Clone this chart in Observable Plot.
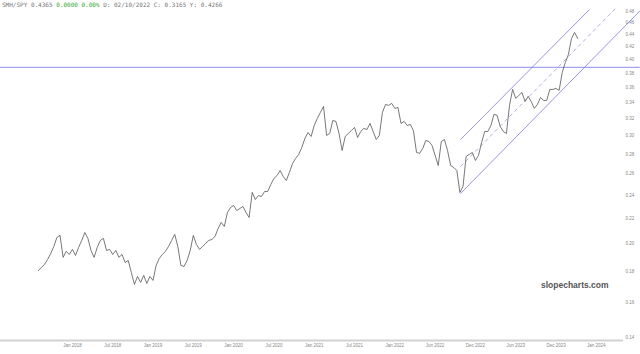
<!DOCTYPE html>
<html>
<head>
<meta charset="utf-8">
<script src="https://cdn.jsdelivr.net/npm/d3@7"></script>
<script src="https://cdn.jsdelivr.net/npm/@observablehq/plot@0.6"></script>
<style>
  html, body { margin: 0; padding: 0; background: #fff; }
  #wrap { position: relative; width: 640px; height: 354px; overflow: hidden; }
  #hdr { position: absolute; left: 2px; top: 1px; font: 6px "DejaVu Sans Mono", monospace; color: #777; white-space: pre; }
  #hdr .g { color: #3a3; }
  #wm { position: absolute; left: 541px; top: 280px; font: bold 8.5px "Liberation Sans", Arial, sans-serif; color: #555; }
</style>
</head>
<body>
<div id="wrap">
  <div id="chart"></div>
  <div id="hdr">SMH/SPY 0.4365 <span class="g">0.0000 0.00%</span> D: 02/10/2022 C: 0.3165 Y: 0.4266</div>
  <div id="wm">slopecharts.com</div>
</div>
<script>
// SMH/SPY ratio, one sample roughly every two weeks
const ratio = [
0.1806,0.1827,0.1848,0.1883,0.1926,0.1978,0.2046,0.2062,0.1898,0.1941,
0.1919,0.1956,0.1912,0.1971,0.2023,0.2085,0.2039,0.1948,0.1898,0.1971,
0.2023,0.2039,0.1948,0.1956,0.1919,0.1948,0.1898,0.1919,0.1862,0.1876,
0.1793,0.1714,0.1766,0.1727,0.1773,0.1720,0.1766,0.1740,0.1841,0.1890,
0.1919,0.1941,0.1978,0.2023,0.2070,0.1978,0.1841,0.1834,0.1876,0.1948,
0.2062,0.1993,0.1956,0.1978,0.2001,0.2023,0.2031,0.2054,0.2117,0.2165,
0.2133,0.2248,0.2291,0.2309,0.2265,0.2282,0.2300,0.2248,0.2206,0.2425,
0.2361,0.2397,0.2388,0.2434,0.2434,0.2499,0.2556,0.2585,0.2634,0.2575,
0.2537,0.2615,0.2705,0.2757,0.2799,0.2874,0.2973,0.3040,0.2995,0.3122,
0.3206,0.3280,0.3355,0.3007,0.3029,0.3182,0.3170,0.3029,0.2841,0.2995,
0.3029,0.3063,0.3099,0.2984,0.3052,0.3087,0.3075,0.3146,0.3052,0.2961,
0.3007,0.3280,0.3380,0.3368,0.3393,0.3329,0.3342,0.3146,0.3170,0.3122,
0.3134,0.3063,0.2820,0.2810,0.2863,0.2950,0.2939,0.2895,0.2789,0.2685,
0.2939,0.2961,0.2841,0.2685,0.2665,0.2634,0.2425,0.2480,0.2778,0.2799,
0.2820,0.2736,0.2789,0.2928,0.3052,0.3052,0.3122,0.3255,0.3243,0.3110,
0.3052,0.3029,0.3368,0.3577,0.3457,0.3497,0.3537,0.3418,0.3484,0.3418,
0.3329,0.3380,0.3470,0.3431,0.3431,0.3577,0.3577,0.3590,0.3563,0.3813,
0.3960,0.4082,0.4335,0.4435,0.4335
];

// x-axis tick labels and the sample index at which each sits
const tickLabels = ["Jan 2018","Jul 2018","Jan 2019","Jul 2019","Jan 2020","Jul 2020","Jan 2021","Jul 2021","Jan 2022","Jun 2022","Dec 2022","Jun 2023","Dec 2023","Jan 2024"];
const tickIndex = [11,24,37,50,63,76,89,102,115,128,141,154,167,180];

// y-axis tick values
const yTicks = [0.14,0.16,0.18,0.20,0.22,0.24,0.26,0.28,0.30,0.32,0.34,0.36,0.38,0.40,0.42,0.44,0.46,0.48];

// trend channel: [startIndex, startValue, endIndex, endValue]
const channelUpper = [136.2, 0.2960, 177.8, 0.4836];
const channelMid   = [136.2, 0.2674, 186.2, 0.4855];
const channelLower = [136.2, 0.2415, 194.2, 0.4818];

// horizontal level
const level = 0.3886;
const levelSpan = [-12.2, 194.2];

const xDomain = [-12.2, 187.8];
const yDomain = [0.1387, 0.5003];

const series = ratio.map((v, i) => ({i, v}));
const toLink = c => ({x1: c[0], y1: c[1], x2: c[2], y2: c[3]});
const labelOf = new Map(tickIndex.map((t, k) => [t, tickLabels[k]]));

const chart = Plot.plot({
  width: 640,
  height: 354,
  marginLeft: 0,
  marginRight: 20,
  marginTop: 0,
  marginBottom: 14,
  style: {background: "#fff", color: "#888", fontFamily: "Liberation Sans, Arial, sans-serif"},
  x: {domain: xDomain, axis: null},
  y: {type: "log", domain: yDomain, axis: null},
  marks: [
    Plot.ruleY([yDomain[0]], {stroke: "#d2d2d2", strokeWidth: 2, x1: xDomain[0], x2: xDomain[1] + 1}),
    Plot.axisX(tickIndex, {tickSize: 0, tickPadding: 3, fontSize: 4.5, fill: "#888", tickFormat: d => labelOf.get(d)}),
    Plot.axisY(yTicks, {anchor: "right", tickSize: 0, tickPadding: 5, fontSize: 4.5, fill: "#888", tickFormat: d3.format(".2f"), textAnchor: "start"}),
    Plot.ruleY([level], {x1: levelSpan[0], x2: levelSpan[1], stroke: "#a4a4f6", strokeWidth: 1.2}),
    Plot.link([toLink(channelUpper), toLink(channelLower)], {x1: "x1", y1: "y1", x2: "x2", y2: "y2", stroke: "#7c7cda", strokeWidth: 0.8}),
    Plot.link([toLink(channelMid)], {x1: "x1", y1: "y1", x2: "x2", y2: "y2", stroke: "#9a9ad4", strokeWidth: 0.8, strokeDasharray: "4,3"}),
    Plot.line(series, {x: "i", y: "v", stroke: "#555", strokeWidth: 0.8})
  ]
});
document.getElementById("chart").appendChild(chart);
</script>
</body>
</html>
